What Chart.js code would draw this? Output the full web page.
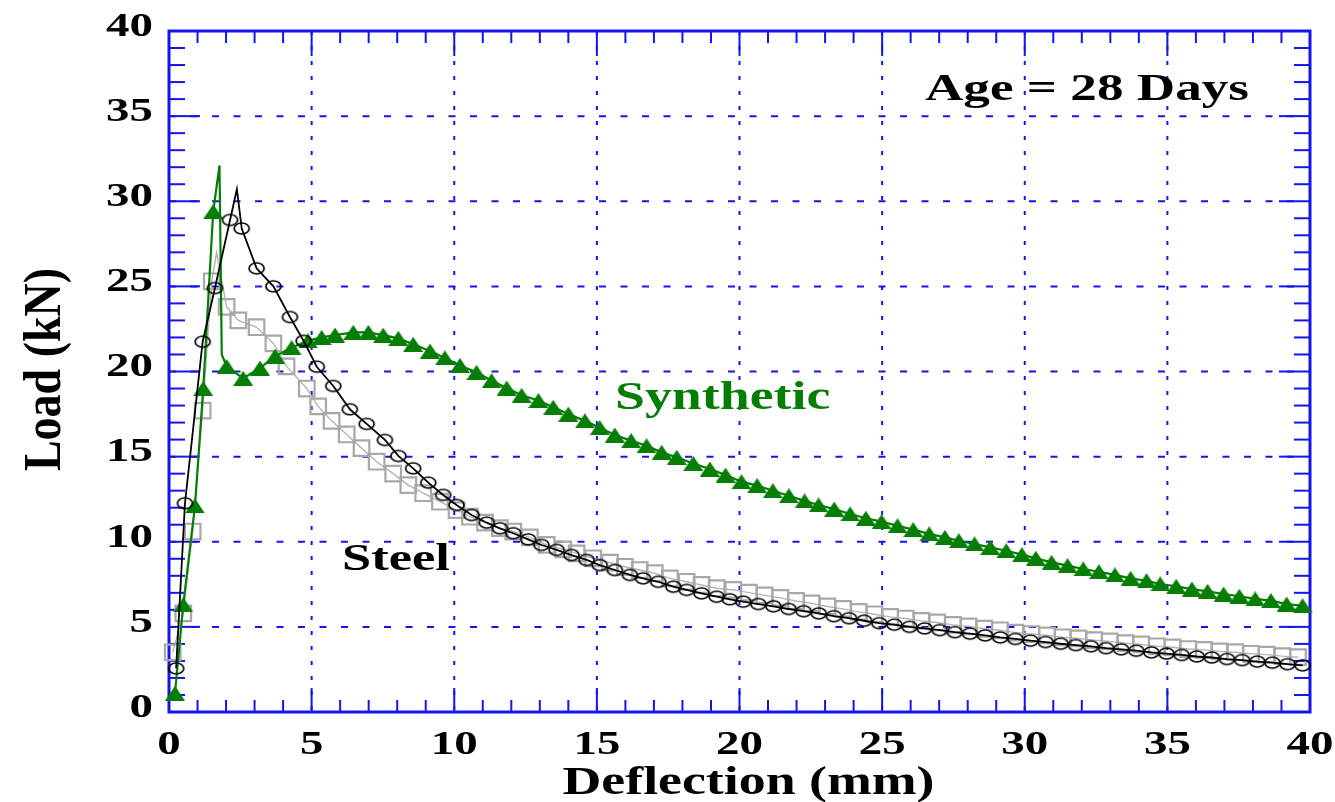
<!DOCTYPE html>
<html>
<head>
<meta charset="utf-8">
<title>Load - Deflection (Age = 28 Days)</title>
<script src="https://cdn.jsdelivr.net/npm/chart.js@4.4.1/dist/chart.umd.min.js"></script>
<style>
  html, body { margin: 0; padding: 0; background: #fff; }
  #chart { display: block; }
</style>
</head>
<body>
<canvas id="chart" width="1335" height="802"></canvas>
<script>
(function () {
  'use strict';

  // ── axis ticks ───────────────────────────────────────────
  const xTicks = [0, 5, 10, 15, 20, 25, 30, 35, 40];
  const yTicks = [0, 5, 10, 15, 20, 25, 30, 35, 40];
  const MINOR_STEP = 1;

  // ── synthetic fibre specimen (triangles) ─────────────────
  const synX = [0.21, 0.5, 0.91, 1.2, 1.55, 2.02, 2.6, 3.19, 3.72, 4.3, 4.87,
    5.35, 5.82, 6.46, 6.99, 7.51, 8.04, 8.56, 9.15, 9.67, 10.2, 10.78, 11.31, 11.84, 12.36,
    12.95, 13.47, 14.0, 14.58, 15.1, 15.63, 16.2, 16.74, 17.27, 17.8, 18.38,
    18.96, 19.51, 20.07, 20.62, 21.17, 21.73, 22.28, 22.77, 23.32, 23.88,
    24.43, 24.98, 25.54, 26.09, 26.65, 27.2, 27.69, 28.24, 28.79, 29.35,
    29.9, 30.39, 30.94, 31.5, 32.05, 32.6, 33.16, 33.71, 34.27, 34.75,
    35.31, 35.86, 36.41, 36.97, 37.52, 38.08, 38.63, 39.18, 39.74];
  const synY = [1.1, 6.3, 12.1, 19.0, 29.4, 20.3, 19.6, 20.2, 20.9, 21.4, 21.8,
    22.0, 22.14, 22.3, 22.3, 22.14, 21.95, 21.6, 21.2, 20.8, 20.35, 19.95, 19.46, 19.03, 18.6,
    18.3, 17.9, 17.5, 17.1, 16.7, 16.27, 15.94, 15.64, 15.25, 14.96, 14.6,
    14.27, 13.92, 13.53, 13.3, 13.0, 12.7, 12.4, 12.16, 11.92, 11.63,
    11.38, 11.18, 10.94, 10.71, 10.46, 10.26, 10.06, 9.87, 9.67, 9.47,
    9.24, 9.03, 8.79, 8.6, 8.4, 8.24, 8.05, 7.85, 7.71, 7.52,
    7.38, 7.22, 7.09, 6.93, 6.8, 6.64, 6.54, 6.34, 6.24];
  // unmarked readings around the first crack
  const synPeakX = [1.77, 1.85];
  const synPeakY = [32.1, 21.0];

  // ── steel fibre specimen A (circles) ─────────────────────
  const steelAX = [0.25, 0.56, 1.18, 1.61, 2.14, 2.55, 3.07, 3.66, 4.24, 4.72,
    5.18, 5.76, 6.34, 6.93, 7.57, 8.04, 8.56, 9.09, 9.61, 10.08,
    10.61, 11.14, 11.6, 12.07, 12.59, 13.06, 13.59, 14.11, 14.64, 15.1,
    15.63, 16.16, 16.62, 17.15, 17.68, 18.15, 18.67, 19.2, 19.66, 20.13,
    20.66, 21.19, 21.72, 22.25, 22.78, 23.31, 23.84, 24.37, 24.9, 25.43,
    25.96, 26.49, 27.02, 27.55, 28.08, 28.61, 29.14, 29.67, 30.2, 30.73,
    31.26, 31.79, 32.32, 32.85, 33.38, 33.91, 34.44, 34.97, 35.5, 36.03,
    36.56, 37.09, 37.62, 38.15, 38.68, 39.21, 39.74];
  const steelAY = [2.56, 12.26, 21.75, 24.9, 28.9, 28.4, 26.06, 25.0, 23.2, 21.8,
    20.28, 19.15, 17.78, 16.92, 15.98, 15.04, 14.31, 13.47, 12.75, 12.16,
    11.57, 11.12, 10.79, 10.5, 10.14, 9.81, 9.52, 9.22, 8.93, 8.63,
    8.34, 8.05, 7.85, 7.65, 7.36, 7.17, 6.97, 6.77, 6.62, 6.48,
    6.34, 6.21, 6.05, 5.92, 5.79, 5.63, 5.51, 5.36, 5.22, 5.13,
    5.0, 4.91, 4.81, 4.69, 4.6, 4.5, 4.38, 4.29, 4.19, 4.11,
    4.01, 3.93, 3.86, 3.75, 3.68, 3.6, 3.5, 3.43, 3.35, 3.26,
    3.2, 3.11, 3.05, 2.96, 2.9, 2.81, 2.74];
  const steelAPeakX = [2.38];
  const steelAPeakY = [30.7];

  // ── steel fibre specimen B (squares) ─────────────────────
  const steelBX = [0.13, 0.5, 0.83, 1.18, 1.5, 2.02, 2.43, 3.07, 3.66, 4.12,
    4.83, 5.23, 5.7, 6.23, 6.75, 7.28, 7.86, 8.39, 8.91, 9.5,
    10.08, 10.55, 11.08, 11.6, 12.07, 12.65, 13.24, 13.82, 14.29, 14.87,
    15.46, 15.98, 16.5, 17.03, 17.56, 18.15, 18.67, 19.2, 19.78,
    20.33, 20.88, 21.43, 21.98, 22.53, 23.08, 23.63, 24.18, 24.73, 25.28,
    25.83, 26.38, 26.93, 27.48, 28.03, 28.58, 29.13, 29.68, 30.23, 30.78,
    31.33, 31.88, 32.43, 32.98, 33.53, 34.08, 34.63, 35.18, 35.73, 36.28,
    36.83, 37.38, 37.93, 38.48, 39.03, 39.58];
  const steelBY = [3.5, 5.8, 10.6, 17.7, 25.3, 23.8, 23.0, 22.6, 21.65, 20.3,
    19.0, 17.95, 17.1, 16.3, 15.5, 14.7, 14.0, 13.33, 12.85, 12.35,
    11.86, 11.47, 11.12, 10.8, 10.6, 10.26, 9.81, 9.55, 9.32, 9.03,
    8.77, 8.53, 8.34, 8.15, 7.85, 7.65, 7.46, 7.27, 7.17,
    7.01, 6.85, 6.7, 6.52, 6.38, 6.2, 6.06, 5.88, 5.74, 5.59,
    5.49, 5.35, 5.26, 5.12, 5.03, 4.89, 4.8, 4.66, 4.58, 4.5,
    4.39, 4.32, 4.22, 4.15, 4.04, 3.97, 3.86, 3.8, 3.7, 3.65,
    3.56, 3.51, 3.42, 3.37, 3.28, 3.22];
  const steelBPeakX = [1.67];
  const steelBPeakY = [27.0];

  // ── text ─────────────────────────────────────────────────
  const X_TITLE = 'Deflection (mm)';
  const Y_TITLE = 'Load (kN)';
  const AGE_LABEL = 'Age = 28 Days';
  const SYN_LABEL = 'Synthetic';
  const STEEL_LABEL = 'Steel';

  // ── style ────────────────────────────────────────────────
  const BLUE = '#1414ee';
  const GREEN = '#067e06';
  const SERIF = '"Liberation Serif", "Times New Roman", serif';
  const SX = 1.38;   // glyphs are set wide

  function buildPoints(xs, ys, lineXs, lineYs) {
    const pts = xs.map((x, i) => ({ x, y: ys[i], mark: true }));
    lineXs.forEach((x, i) => pts.push({ x, y: lineYs[i], mark: false }));
    return pts.sort((a, b) => a.x - b.x);
  }

  function markerCanvas(w, h, draw) {
    const c = document.createElement('canvas');
    c.width = w;
    c.height = h;
    draw(c.getContext('2d'), w, h);
    return c;
  }

  // open ellipse (circles come out wide)
  function ellipseMarker(rx, ry, color, lw) {
    const w = Math.ceil(2 * rx + lw + 2), h = Math.ceil(2 * ry + lw + 2);
    return markerCanvas(w, h, (g) => {
      g.strokeStyle = color;
      g.lineWidth = lw;
      g.beginPath();
      g.ellipse(w / 2, h / 2, rx, ry, 0, 0, Math.PI * 2);
      g.stroke();
    });
  }

  // filled triangle, wider than tall
  function triangleMarker(w, h, color) {
    return markerCanvas(w, h, (g) => {
      g.fillStyle = color;
      g.beginPath();
      g.moveTo(w / 2, 0);
      g.lineTo(w, h);
      g.lineTo(0, h);
      g.closePath();
      g.fill();
    });
  }

  function markRadius(r) {
    return ctx => (ctx.raw && ctx.raw.mark ? r : 0);
  }

  // ── frame, grid, ticks ───────────────────────────────────
  const framePlugin = {
    id: 'frame',
    beforeDatasetsDraw(chart) {
      const { ctx, chartArea: a, scales: { x, y } } = chart;
      const seg = (x1, y1, x2, y2) => { ctx.beginPath(); ctx.moveTo(x1, y1); ctx.lineTo(x2, y2); ctx.stroke(); };
      ctx.save();
      ctx.strokeStyle = BLUE;
      ctx.lineWidth = 2;

      // grid: dashed across, dotted down
      ctx.setLineDash([7, 14.5]);
      yTicks.slice(1, -1).forEach(v => { const p = y.getPixelForValue(v); seg(a.left, p, a.right, p); });
      ctx.setLineDash([4, 11]);
      xTicks.slice(1, -1).forEach(v => { const p = x.getPixelForValue(v); seg(p, a.top, p, a.bottom); });
      ctx.setLineDash([]);

      // major ticks, all four sides, pointing in
      yTicks.forEach(v => {
        const p = y.getPixelForValue(v);
        seg(a.left, p, a.left + 31, p);
        seg(a.right - 31, p, a.right, p);
      });
      xTicks.forEach(v => {
        const p = x.getPixelForValue(v);
        seg(p, a.bottom, p, a.bottom - 24);
        seg(p, a.top, p, a.top + 25);
      });

      // minor ticks
      for (let v = y.min; v <= y.max; v += MINOR_STEP) {
        if (yTicks.includes(v)) continue;
        const p = y.getPixelForValue(v);
        seg(a.left, p, a.left + 16, p);
        seg(a.right - 16, p, a.right, p);
      }
      for (let v = x.min; v <= x.max; v += MINOR_STEP) {
        if (xTicks.includes(v)) continue;
        const p = x.getPixelForValue(v);
        seg(p, a.bottom, p, a.bottom - 12);
        seg(p, a.top, p, a.top + 12);
      }

      // box
      ctx.lineWidth = 3;
      ctx.strokeRect(a.left, a.top, a.right - a.left, a.bottom - a.top);
      ctx.restore();
    },
  };

  // ── labels (wide serif) ──────────────────────────────────
  function wideText(ctx, text, px, py, opts) {
    const sx = opts.sx || SX;
    ctx.save();
    ctx.translate(px, py);
    if (opts.rotate) ctx.rotate(opts.rotate);
    if (opts.rotate) ctx.scale(1, sx); else ctx.scale(sx, 1);
    ctx.font = `bold ${opts.size}px ${SERIF}`;
    ctx.fillStyle = opts.color || '#000';
    ctx.textAlign = opts.align || 'left';
    ctx.textBaseline = opts.baseline || 'alphabetic';
    ctx.fillText(text, 0, 0);
    ctx.restore();
  }

  const labelPlugin = {
    id: 'labels',
    afterDraw(chart) {
      const { ctx, chartArea: a, scales: { x, y } } = chart;
      yTicks.forEach(v => wideText(ctx, String(v), 153, y.getPixelForValue(v) - 4,
        { size: 34, align: 'right', baseline: 'middle' }));
      xTicks.forEach(v => wideText(ctx, String(v), x.getPixelForValue(v), 745,
        { size: 34, align: 'center', baseline: 'middle' }));

      wideText(ctx, X_TITLE, (a.left + a.right) / 2 + 9, 794, { size: 39, align: 'center' });
      wideText(ctx, Y_TITLE, 60, (a.top + a.bottom) / 2 - 2, { size: 46, align: 'center', rotate: -Math.PI / 2, sx: 1.15 });

      wideText(ctx, AGE_LABEL, 925, 100, { size: 38.5 });
      wideText(ctx, SYN_LABEL, 615, 409, { size: 39, color: GREEN });
      wideText(ctx, STEEL_LABEL, 342, 570, { size: 38 });
    },
  };

  // ── chart ────────────────────────────────────────────────
  const canvas = document.getElementById('chart');
  new Chart(canvas, {
    type: 'line',
    data: {
      datasets: [
        {
          label: 'Steel A',
          data: buildPoints(steelAX, steelAY, steelAPeakX, steelAPeakY),
          borderColor: '#000',
          borderWidth: 1.8,
          pointStyle: ellipseMarker(7.5, 5.5, '#000', 1.7),
          pointRadius: markRadius(6),
          tension: 0,
          clip: false,
        },
        {
          label: 'Synthetic',
          data: buildPoints(synX, synY, synPeakX, synPeakY),
          borderColor: GREEN,
          borderWidth: 2.2,
          pointStyle: triangleMarker(20, 15, GREEN),
          pointRadius: markRadius(9),
          tension: 0,
          clip: false,
        },
        {
          label: 'Steel B',
          data: buildPoints(steelBX, steelBY, steelBPeakX, steelBPeakY),
          borderColor: '#b4b4b4',
          borderWidth: 1.4,
          pointStyle: 'rect',
          pointRadius: markRadius(11),
          pointBackgroundColor: 'rgba(0,0,0,0)',
          pointBorderColor: '#a8a8a8',
          pointBorderWidth: 2.2,
          tension: 0,
          clip: false,
        },
      ],
    },
    options: {
      responsive: false,
      animation: false,
      layout: { padding: { left: 169, right: 25, top: 31, bottom: 90 } },
      plugins: { legend: { display: false }, tooltip: { enabled: false } },
      scales: {
        x: { type: 'linear', min: 0, max: 40, display: false },
        y: { type: 'linear', min: 0, max: 40, display: false },
      },
    },
    plugins: [framePlugin, labelPlugin],
  });
})();
</script>
</body>
</html>
